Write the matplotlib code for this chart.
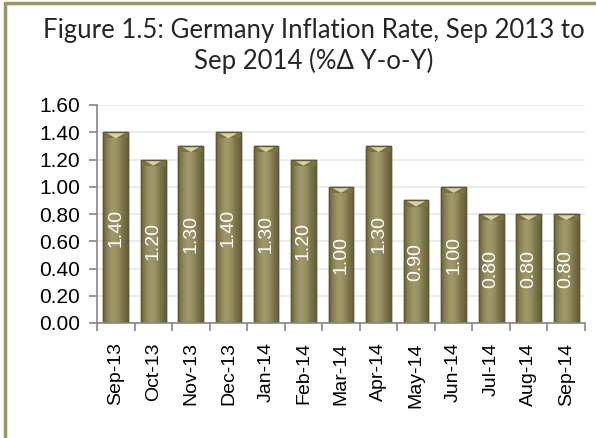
import matplotlib
matplotlib.use("Agg")
import numpy as np
import matplotlib.pyplot as plt
from matplotlib.patches import Rectangle, Polygon
from matplotlib.colors import LinearSegmentedColormap

categories = ["Sep-13", "Oct-13", "Nov-13", "Dec-13", "Jan-14", "Feb-14", "Mar-14",
              "Apr-14", "May-14", "Jun-14", "Jul-14", "Aug-14", "Sep-14"]
values = [1.40, 1.20, 1.30, 1.40, 1.30, 1.20, 1.00, 1.30, 0.90, 1.00, 0.80, 0.80, 0.80]
yticks = [0.00, 0.20, 0.40, 0.60, 0.80, 1.00, 1.20, 1.40, 1.60]
title = "Figure 1.5: Germany Inflation Rate, Sep 2013 to\nSep 2014 (%Δ Y-o-Y)"

fig = plt.figure(figsize=(5.96, 4.38), dpi=100)
fig.patch.set_facecolor("white")
ax = fig.add_axes([97 / 596, 1 - 323 / 438, 488 / 596, 218 / 438])

x = list(range(len(categories)))
bw = 0.66
bars = ax.bar(x, values, width=bw, color="#938B5D", edgecolor="#5E5833", linewidth=1.0, zorder=3)

cmap = LinearSegmentedColormap.from_list(
    "olive", ["#6C663F", "#8E875A", "#A29A6B", "#978F60", "#7A7449", "#656039"])
grad = np.linspace(0, 1, 64).reshape(1, -1)
bevel_h = 0.045
for b, v in zip(bars, values):
    x0 = b.get_x()
    w = b.get_width()
    im = ax.imshow(grad, extent=(x0, x0 + w, 0, v), aspect="auto", cmap=cmap,
                   zorder=3.1, interpolation="bilinear")
    im.set_clip_path(b)
    # top bevel: dark side band plus light triangle in the middle
    band = Rectangle((x0, v - bevel_h), w, bevel_h, facecolor="#79733F",
                     edgecolor="none", zorder=3.2)
    ax.add_patch(band)
    tri = Polygon([(x0 + w * 0.08, v), (x0 + w * 0.92, v), (x0 + w / 2, v - bevel_h)],
                  closed=True, facecolor="#D9D3A3", edgecolor="none", zorder=3.3)
    ax.add_patch(tri)
    edge = Rectangle((x0, 0), w, v, fill=False, edgecolor="#5E5833", linewidth=1.0, zorder=3.4)
    ax.add_patch(edge)
    ax.text(x0 + w / 2, v / 2, f"{v:.2f}", rotation=90,
            ha="center", va="center", color="white", fontsize=14,
            family="Liberation Sans", zorder=4)

ax.set_xlim(-0.5, len(categories) - 0.5)
ax.set_ylim(0, 1.6)
ax.set_yticks(yticks)
ax.set_yticklabels([f"{t:.2f}" for t in yticks], fontsize=15, family="Liberation Sans")
ax.set_xticks(x)
ax.set_xticklabels(categories, rotation=90, fontsize=14, family="Liberation Sans")
ax.tick_params(axis="x", length=0, pad=14)
ax.set_xticks([i - 0.5 for i in range(len(categories) + 1)], minor=True)
ax.tick_params(axis="x", which="minor", length=6, color="#868686", width=1.2)
ax.tick_params(axis="y", length=6, color="#868686", width=1.2, pad=6)
ax.grid(axis="y", color="#E8E8E8", linewidth=1.2, zorder=0)
for s in ["top", "right"]:
    ax.spines[s].set_visible(False)
for s in ["left", "bottom"]:
    ax.spines[s].set_color("#868686")
    ax.spines[s].set_linewidth(1.2)
    ax.spines[s].set_zorder(5)
ax.set_facecolor("white")

fig.text(0.527, 0.895, title, ha="center", va="center", fontsize=18.5,
         family="Lato", color="#262626", linespacing=1.25)

border = Rectangle((5 / 596, -0.1), 1.2, 1 - 3 / 438 + 0.1, transform=fig.transFigure,
                   fill=False, edgecolor="#9D9463", linewidth=2.5)
fig.patches.append(border)

fig.savefig("out.png", dpi=100)
